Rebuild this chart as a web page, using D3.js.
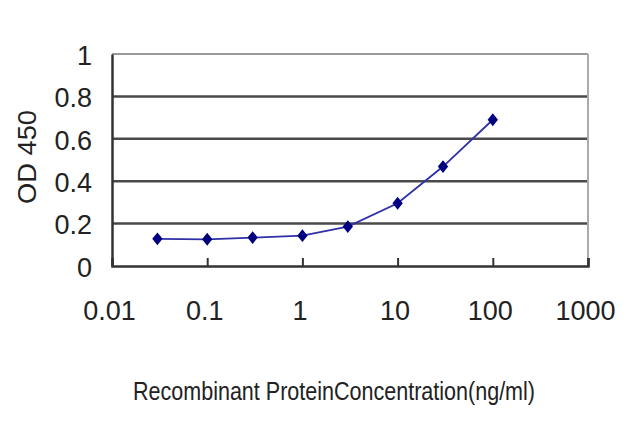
<!DOCTYPE html>
<html>
<head>
<meta charset="utf-8">
<script src="https://cdn.jsdelivr.net/npm/d3@7"></script>
<style>
  body { margin: 0; background: #fff; }
  text { font-family: "Liberation Sans", Arial, sans-serif; fill: #222; }
</style>
</head>
<body>
<script>
// data
var concentrations = [0.03, 0.1, 0.3, 1, 3, 10, 30, 100];
var odValues = [0.128, 0.126, 0.134, 0.143, 0.186, 0.296, 0.469, 0.69];
var xTicks = [0.01, 0.1, 1, 10, 100, 1000];
var xTickLabels = ["0.01", "0.1", "1", "10", "100", "1000"];
var yTicks = [0, 0.2, 0.4, 0.6, 0.8, 1];
var yTickLabels = ["0", "0.2", "0.4", "0.6", "0.8", "1"];

var width = 640, height = 427;
var margin = {left: 112, right: 52, top: 54, bottom: 161};

var svg = d3.select("body").append("svg")
    .attr("width", width)
    .attr("height", height);

var x = d3.scaleLog().domain([0.01, 1000]).range([margin.left, width - margin.right]);
var y = d3.scaleLinear().domain([0, 1]).range([height - margin.bottom, margin.top]);

// gridlines
svg.append("g")
    .selectAll("line")
    .data(yTicks.filter(function(d) { return d > 0 && d < 1; }))
    .enter().append("line")
    .attr("x1", x(0.01)).attr("x2", x(1000))
    .attr("y1", function(d) { return y(d); })
    .attr("y2", function(d) { return y(d); })
    .style("stroke", "#4a4a4a")
    .style("stroke-width", 2.5);

// top and right border
svg.append("line")
    .attr("x1", x(0.01)).attr("x2", x(1000))
    .attr("y1", y(1)).attr("y2", y(1))
    .style("stroke", "#999").style("stroke-width", 2);
svg.append("line")
    .attr("x1", x(1000)).attr("x2", x(1000))
    .attr("y1", y(1)).attr("y2", y(0))
    .style("stroke", "#aaa").style("stroke-width", 2);

// x axis, ticks pointing up
var xAxis = svg.append("g")
    .attr("transform", "translate(0," + y(0) + ")")
    .call(d3.axisBottom(x).tickValues(xTicks).tickSize(-8).tickFormat(function(d, i) { return xTickLabels[i]; }));
xAxis.select(".domain").style("stroke", "#333").style("stroke-width", 2.5);
xAxis.selectAll(".tick line").style("stroke", "#333").style("stroke-width", 2);
xAxis.selectAll(".tick text")
    .attr("y", 54).attr("dy", 0).attr("dx", -3)
    .style("font-size", "27px").style("fill", "#222");

// y axis
var yAxis = svg.append("g")
    .attr("transform", "translate(" + x(0.01) + ",0)")
    .call(d3.axisLeft(y).tickValues(yTicks).tickSize(0).tickFormat(function(d, i) { return yTickLabels[i]; }));
yAxis.select(".domain").style("stroke", "#333").style("stroke-width", 2.5);
yAxis.selectAll(".tick text")
    .attr("x", -20).attr("dy", "0.38em")
    .style("font-size", "27px").style("fill", "#222");

// series line
var line = d3.line()
    .x(function(d, i) { return x(concentrations[i]); })
    .y(function(d) { return y(d); });

svg.append("path")
    .datum(odValues)
    .attr("d", line)
    .style("fill", "none")
    .style("stroke", "#3030a8")
    .style("stroke-width", 1.8);

// diamond markers, a bit wider than d3.symbolDiamond
var wideDiamond = {
    draw: function(context, size) {
        var h = Math.sqrt(size) * 0.72, w = h * 0.8;
        context.moveTo(0, -h);
        context.lineTo(w, 0);
        context.lineTo(0, h);
        context.lineTo(-w, 0);
        context.closePath();
    }
};

svg.append("g")
    .selectAll("path")
    .data(odValues)
    .enter().append("path")
    .attr("d", d3.symbol().type(wideDiamond).size(80))
    .attr("transform", function(d, i) { return "translate(" + x(concentrations[i]) + "," + y(d) + ")"; })
    .style("fill", "#000080");

// axis titles
svg.append("text")
    .attr("transform", "translate(36," + 157 + ") rotate(-90)")
    .attr("text-anchor", "middle")
    .attr("textLength", 94)
    .attr("lengthAdjust", "spacingAndGlyphs")
    .style("font-size", "25px")
    .text("OD 450");

svg.append("text")
    .attr("x", 334)
    .attr("y", 400)
    .attr("text-anchor", "middle")
    .attr("textLength", 402)
    .attr("lengthAdjust", "spacingAndGlyphs")
    .style("font-size", "25px")
    .text("Recombinant ProteinConcentration(ng/ml)");
</script>
</body>
</html>
